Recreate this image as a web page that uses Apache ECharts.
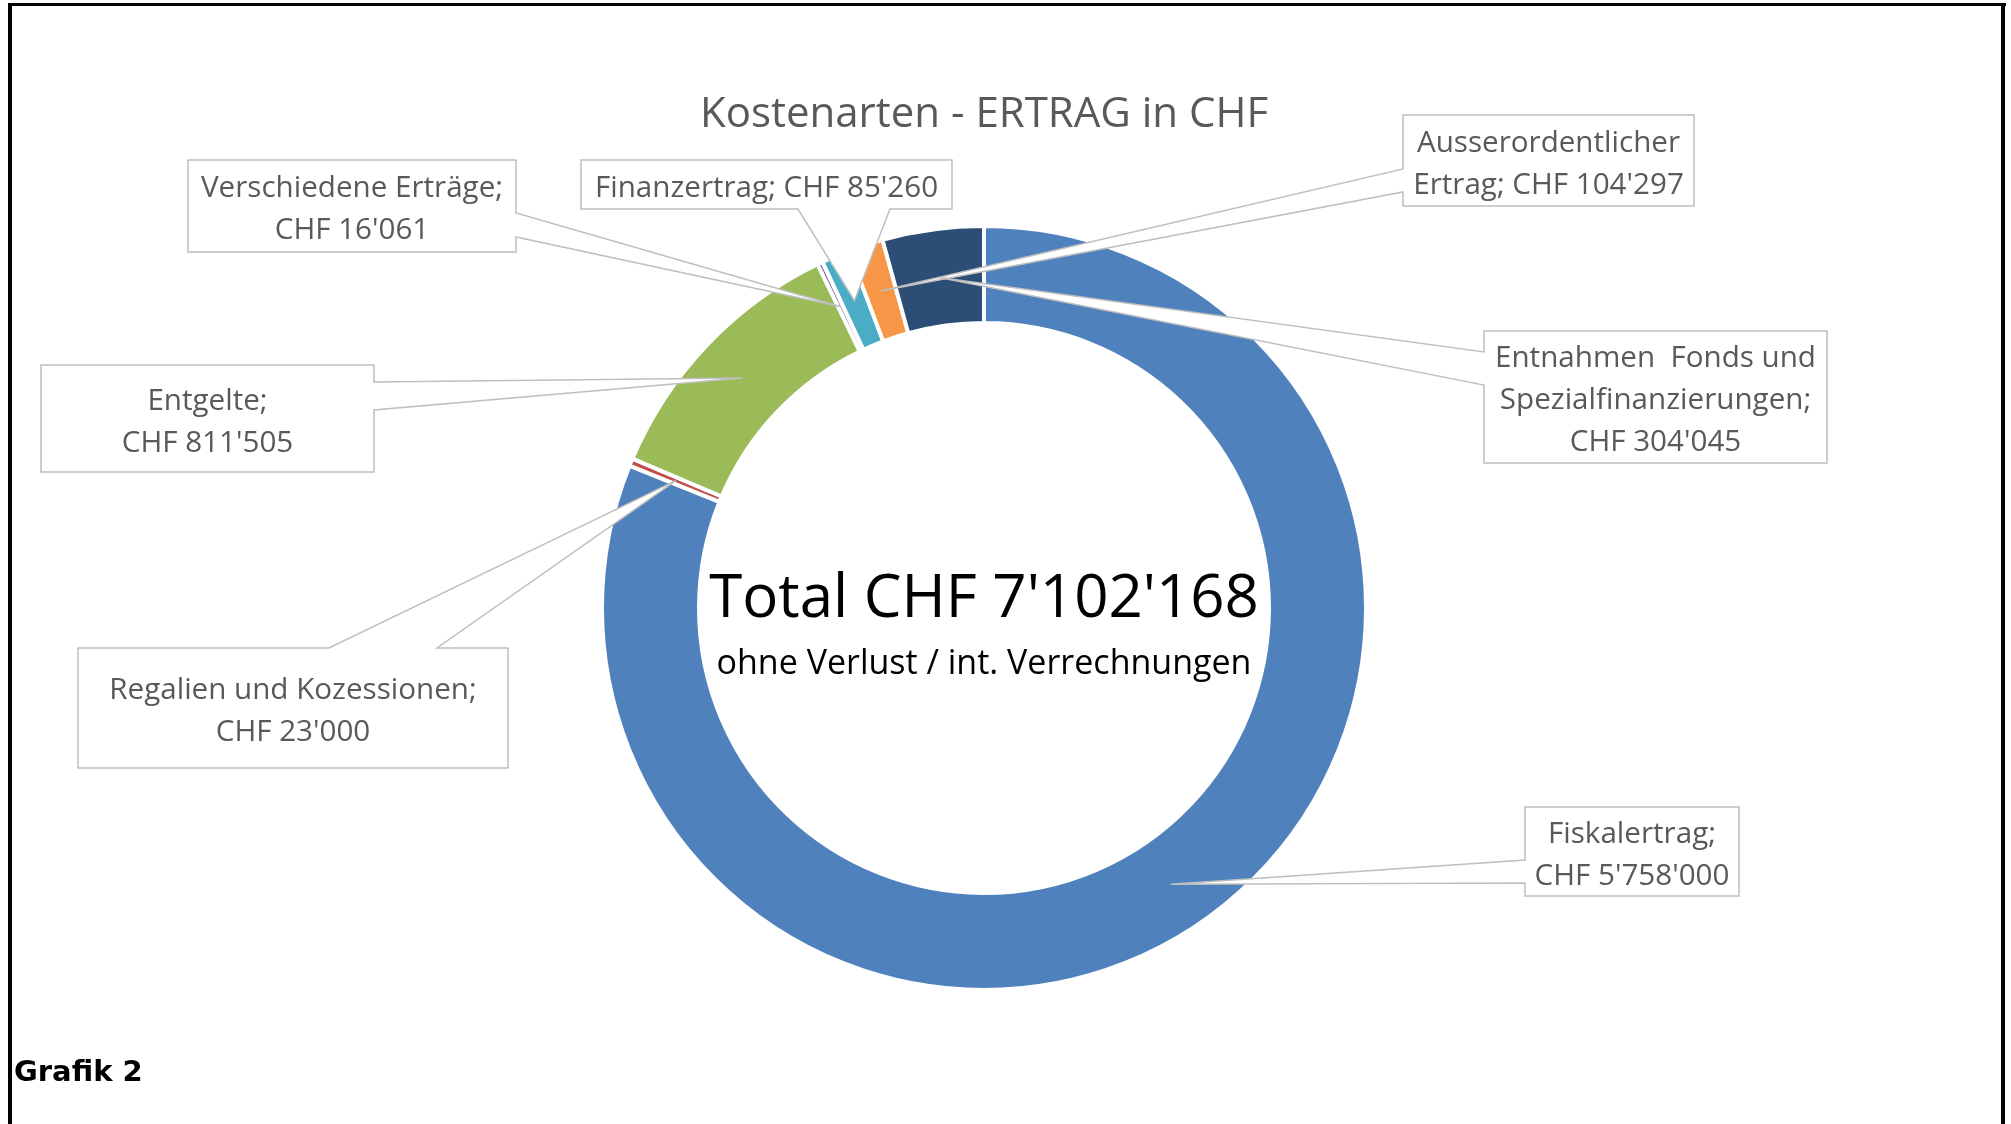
<!DOCTYPE html>
<html>
<head>
<meta charset="utf-8">
<title>Kostenarten - ERTRAG in CHF</title>
<script src="https://cdn.jsdelivr.net/npm/echarts@6/dist/echarts.min.js"></script>
<style>
  html, body { margin: 0; padding: 0; background: #fff; }
  #chart { width: 2011px; height: 1124px; }
</style>
</head>
<body>
<div id="chart"></div>
<script>
// Kostenarten - Ertrag in CHF (Grafik 2)
const categories = [
  'Fiskalertrag',
  'Regalien und Kozessionen',
  'Entgelte',
  'Verschiedene Erträge',
  'Finanzertrag',
  'Ausserordentlicher\nErtrag',
  'Entnahmen  Fonds und\nSpezialfinanzierungen'
];
const values = [5758000, 23000, 811505, 16061, 85260, 104297, 304045];
// was zwischen "Name;" und "CHF ..." steht
const labelBreaks = ['\n', '\n', '\n', '\n', ' ', ' ', '\n'];
const colors = ['#4F81BD', '#C0504D', '#9BBB59', '#8064A2', '#4BACC6', '#F79646', '#2C4D75'];

const chartTitle = 'Kostenarten - ERTRAG in CHF';
const centerSub = 'ohne Verlust / int. Verrechnungen';
const footer = 'Grafik 2';

// Position der Beschriftungskästen (Pixel) und Ansatz des Zeigers
const callouts = [
  { box: [1525, 807, 1739, 896], edge: 'left',   base: [860, 883] },
  { box: [78, 648, 508, 768],    edge: 'top',    base: [329, 437] },
  { box: [41, 365, 374, 472],    edge: 'right',  base: [382, 410] },
  { box: [188, 160, 516, 252],   edge: 'right',  base: [213, 237] },
  { box: [581, 160, 952, 209],   edge: 'bottom', base: [798, 890] },
  { box: [1403, 115, 1694, 206], edge: 'left',   base: [169, 192] },
  { box: [1484, 331, 1827, 463], edge: 'left',   base: [352, 385] }
];

const LABEL_FONT = '"Open Sans", "Noto Sans", sans-serif';
const GRAY_TEXT = '#595959';
const GRAY_LINE = '#BFBFBF';
const CX = 984, CY = 608;

function fmtCHF(v) {
  return 'CHF ' + String(v).replace(/\B(?=(\d{3})+(?!\d))/g, "'");
}

const total = values.reduce((a, b) => a + b, 0);
const pieData = categories.map((name, i) => ({
  name: name,
  value: values[i],
  itemStyle: { color: colors[i] }
}));

const chart = echarts.init(document.getElementById('chart'));

const option = {
  animation: false,
  backgroundColor: '#fff',
  series: [
    {
      type: 'pie',
      z: 2,
      center: [CX, CY],
      radius: [285, 382],
      startAngle: 90,
      clockwise: true,
      silent: true,
      avoidLabelOverlap: false,
      itemStyle: { borderColor: '#fff', borderWidth: 4 },
      label: { show: false },
      labelLine: { show: false },
      data: pieData
    },
    {
      // nur für die Beschriftungen, liegt über den Zeigern
      type: 'pie',
      z: 4,
      center: [CX, CY],
      radius: [285, 382],
      startAngle: 90,
      clockwise: true,
      silent: true,
      avoidLabelOverlap: false,
      itemStyle: { color: 'rgba(0,0,0,0)', borderWidth: 0 },
      label: {
        show: true,
        position: 'outside',
        formatter: (p) => p.name + ';' + labelBreaks[p.dataIndex] + fmtCHF(p.value),
        fontFamily: LABEL_FONT,
        fontSize: 29.6,
        lineHeight: 42,
        color: GRAY_TEXT,
        align: 'center'
      },
      labelLine: { show: false },
      labelLayout: function (p) {
        const c = callouts[p.dataIndex];
        return {
          x: (c.box[0] + c.box[2]) / 2,
          y: (c.box[1] + c.box[3]) / 2 + 4,
          align: 'center',
          verticalAlign: 'middle'
        };
      },
      data: pieData.map(d => ({ name: d.name, value: d.value }))
    }
  ]
};

chart.setOption(option);

// Zeiger + Kästen aus dem Layout der Ringsegmente bauen
function calloutPoints(c, px, py) {
  const [x0, y0, x1, y1] = c.box;
  const [a, b] = c.base;
  const P = [px, py];
  if (c.edge === 'left')   return [[x0, y0], [x1, y0], [x1, y1], [x0, y1], [x0, b], P, [x0, a]];
  if (c.edge === 'right')  return [[x0, y0], [x1, y0], [x1, a], P, [x1, b], [x1, y1], [x0, y1]];
  if (c.edge === 'top')    return [[x0, y0], [a, y0], P, [b, y0], [x1, y0], [x1, y1], [x0, y1]];
  return [[x0, y0], [x1, y0], [x1, y1], [b, y1], P, [a, y1], [x0, y1]];
}

const layoutData = chart.getModel().getSeriesByIndex(0).getData();
const graphics = [];

callouts.forEach((c, i) => {
  const l = layoutData.getItemLayout(i);
  const mid = (l.startAngle + l.endAngle) / 2;
  const rm = (l.r + l.r0) / 2;
  const px = l.cx + rm * Math.cos(mid);
  const py = l.cy + rm * Math.sin(mid);
  graphics.push({
    type: 'polygon',
    z: 3,
    silent: true,
    shape: { points: calloutPoints(c, px, py) },
    style: { fill: '#fff', stroke: GRAY_LINE, lineWidth: 1.5 }
  });
});

// Rahmen
graphics.push(
  { type: 'rect', z: 5, silent: true, shape: { x: 8, y: 3, width: 1998, height: 3 }, style: { fill: '#000' } },
  { type: 'rect', z: 5, silent: true, shape: { x: 8, y: 3, width: 4, height: 1121 }, style: { fill: '#000' } },
  { type: 'rect', z: 5, silent: true, shape: { x: 2001, y: 3, width: 4, height: 1121 }, style: { fill: '#000' } }
);

// Titel und Text in der Mitte
graphics.push(
  {
    type: 'text', z: 5, silent: true, x: CX, y: 115,
    style: { text: chartTitle, fill: GRAY_TEXT, font: '42px ' + LABEL_FONT, align: 'center', verticalAlign: 'middle' }
  },
  {
    type: 'text', z: 5, silent: true, x: CX, y: 600,
    style: { text: 'Total ' + fmtCHF(total), fill: '#000', font: '60px ' + LABEL_FONT, align: 'center', verticalAlign: 'middle' }
  },
  {
    type: 'text', z: 5, silent: true, x: CX, y: 664,
    style: { text: centerSub, fill: '#000', font: '34px ' + LABEL_FONT, align: 'center', verticalAlign: 'middle' }
  },
  {
    type: 'text', z: 5, silent: true, x: 14, y: 1073,
    style: { text: footer, fill: '#000', font: 'bold 29px "DejaVu Sans", sans-serif', align: 'left', verticalAlign: 'middle' }
  }
);

chart.setOption({ graphic: graphics });

window.addEventListener('resize', () => chart.resize());
</script>
</body>
</html>
